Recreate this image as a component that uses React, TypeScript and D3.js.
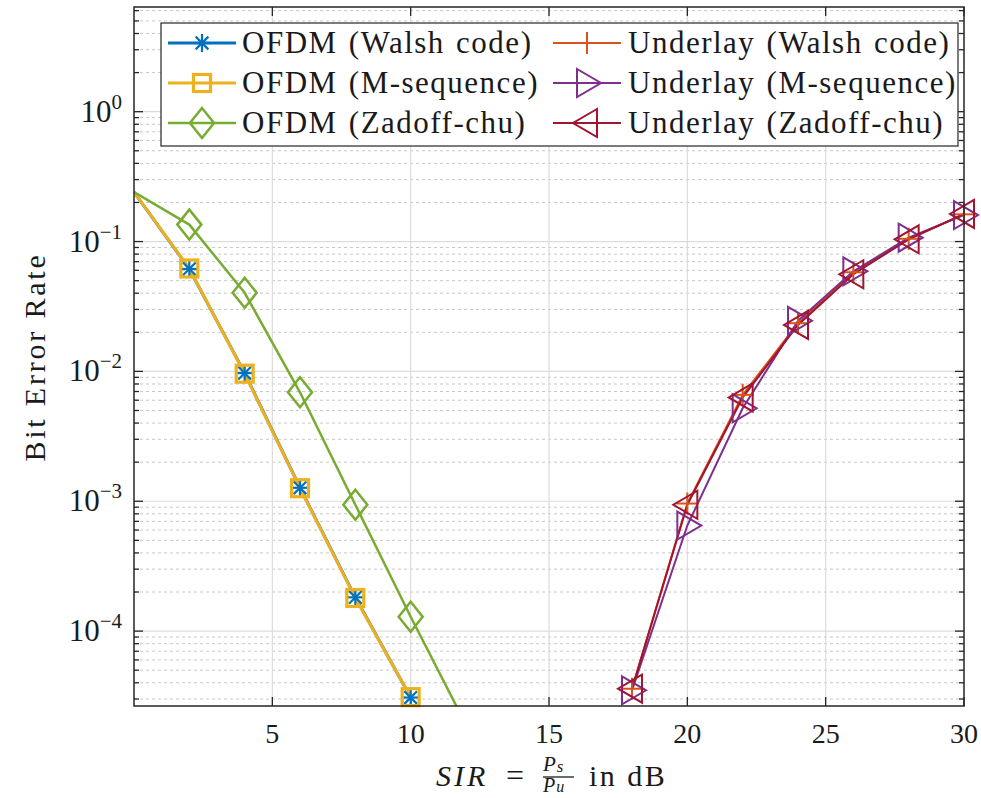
import React from 'react';
import * as d3 from 'd3';

// SIR in dB
const sirOfdm = [0, 2, 4, 6, 8, 10];
const sirOfdmZc = [0, 2, 4, 6, 8, 10, 12];
const sirUnderlay = [18, 20, 22, 24, 26, 28, 30];

// bit error rates
const berOfdmWalsh = [0.24, 0.0615, 0.0097, 0.00127, 0.000182, 0.0000308];
const berOfdmMseq = [0.24, 0.062, 0.0096, 0.00126, 0.00018, 0.000031];
const berOfdmZc = [0.24, 0.135, 0.0403, 0.0069, 0.00094, 0.000129, 0.000019];
const berUnderlayWalsh = [3.6e-5, 9.6e-4, 6.6e-3, 0.0235, 0.058, 0.105, 0.162];
const berUnderlayMseq = [3.5e-5, 6.5e-4, 5.2e-3, 0.0245, 0.059, 0.107, 0.16];
const berUnderlayZc = [3.6e-5, 9.4e-4, 6.3e-3, 0.0228, 0.056, 0.104, 0.163];

const xTicks = [5, 10, 15, 20, 25, 30];
const yTickExps = [0, -1, -2, -3, -4];

type MarkerKind = 'asterisk' | 'square' | 'diamond' | 'plus' | 'triRight' | 'triLeft';

interface Series {
  name: string;
  x: number[];
  y: number[];
  color: string;
  width: number;
  marker: MarkerKind;
}

const series: Series[] = [
  { name: 'OFDM (Walsh code)', x: sirOfdm, y: berOfdmWalsh, color: '#0072BD', width: 3, marker: 'asterisk' },
  { name: 'OFDM (M-sequence)', x: sirOfdm, y: berOfdmMseq, color: '#EDB120', width: 3, marker: 'square' },
  { name: 'OFDM (Zadoff-chu)', x: sirOfdmZc, y: berOfdmZc, color: '#77AC30', width: 2.5, marker: 'diamond' },
  { name: 'Underlay (Walsh code)', x: sirUnderlay, y: berUnderlayWalsh, color: '#D95319', width: 2, marker: 'plus' },
  { name: 'Underlay (M-sequence)', x: sirUnderlay, y: berUnderlayMseq, color: '#7E2F8E', width: 2, marker: 'triRight' },
  { name: 'Underlay (Zadoff-chu)', x: sirUnderlay, y: berUnderlayZc, color: '#A2142F', width: 2, marker: 'triLeft' },
];

const W = 981;
const H = 798;
const left = 134, right = 964, top = 7, bottom = 706;
const FONT = { fontFamily: "'Liberation Serif'" };
const AXIS = '#262626';
const INK = '#1a1a1a';

const Marker = ({ kind, cx, cy, color }: { kind: MarkerKind; cx: number; cy: number; color: string }) => {
  switch (kind) {
    case 'asterisk': {
      const r = 9, d = r * 0.707;
      return (
        <g stroke={color} strokeWidth={2.2} fill="none">
          <line x1={cx} y1={cy - r} x2={cx} y2={cy + r} />
          <line x1={cx - r} y1={cy} x2={cx + r} y2={cy} />
          <line x1={cx - d} y1={cy - d} x2={cx + d} y2={cy + d} />
          <line x1={cx - d} y1={cy + d} x2={cx + d} y2={cy - d} />
        </g>
      );
    }
    case 'square':
      return <rect x={cx - 8.5} y={cy - 8.5} width={17} height={17} fill="none" stroke={color} strokeWidth={3.2} />;
    case 'diamond':
      return (
        <path d={`M${cx},${cy - 15}L${cx + 12},${cy}L${cx},${cy + 15}L${cx - 12},${cy}Z`}
          fill="none" stroke={color} strokeWidth={2.5} />
      );
    case 'plus':
      return (
        <g stroke={color} strokeWidth={2}>
          <line x1={cx} y1={cy - 11} x2={cx} y2={cy + 11} />
          <line x1={cx - 11} y1={cy} x2={cx + 11} y2={cy} />
        </g>
      );
    case 'triRight':
      return (
        <path d={`M${cx - 10},${cy - 14}L${cx + 14},${cy}L${cx - 10},${cy + 14}Z`}
          fill="none" stroke={color} strokeWidth={2} />
      );
    case 'triLeft':
      return (
        <path d={`M${cx + 10},${cy - 14}L${cx - 14},${cy}L${cx + 10},${cy + 14}Z`}
          fill="none" stroke={color} strokeWidth={2} />
      );
  }
};

export default function App() {
  const x = d3.scaleLinear().domain([0, 30]).range([left, right]);
  const y = d3.scaleLog().domain([2.65e-5, 6.4]).range([bottom, top]);
  const [yMin, yMax] = y.domain();

  // minor ticks k*10^n inside the domain
  const minor: number[] = [];
  for (let e = -5; e <= 0; e++) {
    for (let k = 2; k <= 9; k++) {
      const v = k * Math.pow(10, e);
      if (v > yMin && v < yMax) minor.push(v);
    }
  }

  const line = d3.line<[number, number]>().x((d) => x(d[0])).y((d) => y(d[1]));

  const legendRows = [43, 83, 123];
  const legendCols = [{ l0: 168, l1: 236, t: 242 }, { l0: 553, l1: 621, t: 628 }];

  return (
    <svg width={W} height={H} style={{ position: 'absolute', left: 0, top: 0, background: '#fff' }}>
      <defs>
        <clipPath id="plot">
          <rect x={left} y={top} width={right - left} height={bottom - top} />
        </clipPath>
      </defs>
      <rect x={0} y={0} width={W} height={H} fill="#fff" />

      {/* grid */}
      {minor.map((v) => (
        <line key={'m' + v} x1={left} x2={right} y1={y(v)} y2={y(v)} stroke="#c8c8c8" strokeWidth={1} strokeDasharray="3,3" />
      ))}
      {yTickExps.map((e) => (
        <line key={'g' + e} x1={left} x2={right} y1={y(Math.pow(10, e))} y2={y(Math.pow(10, e))} stroke="#dcdcdc" strokeWidth={1.2} />
      ))}
      {xTicks.filter((t) => t < 30).map((t) => (
        <line key={'gx' + t} x1={x(t)} x2={x(t)} y1={top} y2={bottom} stroke="#dcdcdc" strokeWidth={1.2} />
      ))}

      {/* ticks */}
      <g stroke={AXIS} strokeWidth={1.3}>
        {minor.map((v) => (
          <g key={'mt' + v}>
            <line x1={left} x2={left + 5} y1={y(v)} y2={y(v)} />
            <line x1={right} x2={right - 5} y1={y(v)} y2={y(v)} />
          </g>
        ))}
        {yTickExps.map((e) => (
          <g key={'yt' + e}>
            <line x1={left} x2={left + 9} y1={y(Math.pow(10, e))} y2={y(Math.pow(10, e))} />
            <line x1={right} x2={right - 9} y1={y(Math.pow(10, e))} y2={y(Math.pow(10, e))} />
          </g>
        ))}
        {xTicks.map((t) => (
          <g key={'xt' + t}>
            <line x1={x(t)} x2={x(t)} y1={bottom} y2={bottom - 9} />
            <line x1={x(t)} x2={x(t)} y1={top} y2={top + 9} />
          </g>
        ))}
      </g>

      {/* series lines */}
      <g clipPath="url(#plot)" fill="none" strokeLinejoin="round">
        {series.map((s) => (
          <path key={s.name} d={line(s.x.map((v, i) => [v, s.y[i]] as [number, number])) || ''}
            stroke={s.color} strokeWidth={s.width} />
        ))}
      </g>
      {/* markers */}
      {series.map((s) =>
        s.x.map((v, i) =>
          v > 0 && s.y[i] >= yMin ? (
            <Marker key={s.name + i} kind={s.marker} cx={x(v)} cy={y(s.y[i])} color={s.color} />
          ) : null
        )
      )}

      {/* axes box */}
      <rect x={left} y={top} width={right - left} height={bottom - top} fill="none" stroke={AXIS} strokeWidth={1.5} />

      {/* x tick labels */}
      {xTicks.map((t) => (
        <text key={'xl' + t} x={x(t)} y={743} textAnchor="middle" fontSize={28} fill={INK} style={FONT}>{t}</text>
      ))}
      {/* y tick labels */}
      {yTickExps.map((e) => (
        <text key={'yl' + e} x={122} y={y(Math.pow(10, e)) + 10} textAnchor="end" fontSize={31} fill={INK} style={FONT}>
          10<tspan fontSize={21} dy={-13}>{e < 0 ? '\u2212' + -e : e}</tspan>
        </text>
      ))}

      {/* axis titles */}
      <text transform="translate(45,357) rotate(-90)" textAnchor="middle" fontSize={30} letterSpacing={2.8} fill={INK} style={FONT}>
        Bit Error Rate
      </text>
      <g fill={INK} style={FONT}>
        <text x={436} y={786} fontSize={30} fontStyle="italic" letterSpacing={3}>SIR</text>
        <text x={515} y={786} fontSize={32} textAnchor="middle">=</text>
        <text x={543} y={771} fontSize={21} fontStyle="italic">P<tspan fontSize={17} dx={1} dy={1}>s</tspan></text>
        <line x1={543} x2={574} y1={777} y2={777} stroke={INK} strokeWidth={1.3} />
        <text x={543} y={792} fontSize={20} fontStyle="italic">P<tspan fontSize={16} dx={1}>u</tspan></text>
        <text x={589} y={786} fontSize={30} letterSpacing={2.5}>in dB</text>
      </g>

      {/* legend */}
      <rect x={161} y={23} width={797} height={123} fill="#fff" stroke={AXIS} strokeWidth={1.2} />
      {series.map((s, i) => {
        const c = legendCols[Math.floor(i / 3)];
        const ry = legendRows[i % 3];
        return (
          <g key={'lg' + s.name}>
            <line x1={c.l0} x2={c.l1} y1={ry} y2={ry} stroke={s.color} strokeWidth={s.width} />
            <Marker kind={s.marker} cx={(c.l0 + c.l1) / 2} cy={ry} color={s.color} />
            <text x={c.t} y={ry + 10} fontSize={31} letterSpacing={1.5} wordSpacing={2} fill={INK} style={FONT}>{s.name}</text>
          </g>
        );
      })}
    </svg>
  );
}
